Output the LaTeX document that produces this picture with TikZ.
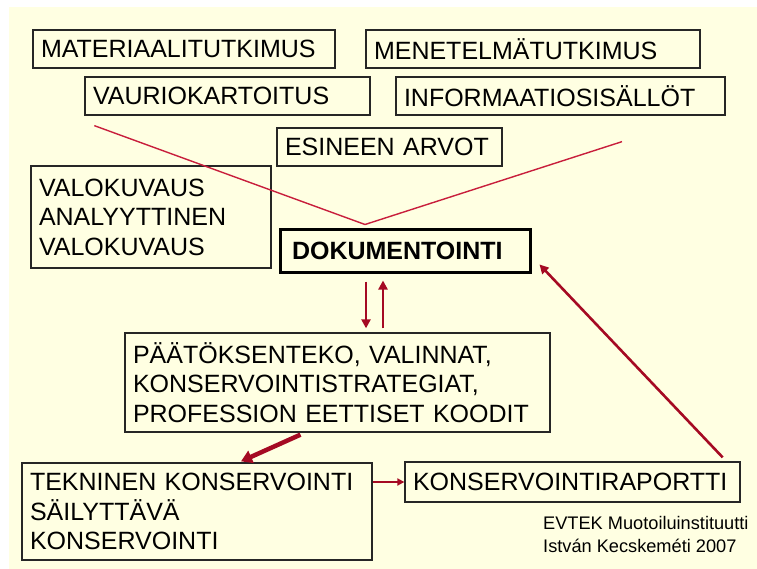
\documentclass[tikz,border=0pt]{standalone}
\usepackage{fontspec}
\setmainfont{Liberation Sans}
\usetikzlibrary{arrows.meta}
\definecolor{bgyellow}{RGB}{255,255,226}
\definecolor{vred}{RGB}{200,30,60}
\definecolor{ared}{RGB}{165,10,35}
\tikzset{
  box/.style={draw=black!85, line width=1.3pt, inner xsep=8pt, inner ysep=0pt,
    align=left, font=\fontsize{25}{29.5}\selectfont},
  arr/.style={draw=ared, line width=2.6pt, -{Triangle[length=9pt,width=9pt]}},
  thickarr/.style={draw=ared, line width=4.5pt, -{Triangle[length=11pt,width=13pt]}},
  vline/.style={draw=vred, line width=1.4pt},
  credit/.style={font=\fontsize{18.2}{23}\selectfont, align=left, inner sep=0pt}
}
\begin{document}
\begin{tikzpicture}[x=1pt,y=-1pt]
\useasboundingbox (0,0) rectangle (757,569);
\fill[bgyellow] (9,7) rectangle (757,569);

\node[box, text width=286pt, minimum height=38pt] (mat) at (184,49) {MATERIAALITUTKIMUS};
\node[box, text width=318pt, minimum height=38pt] (men) at (533,49) {MENETELMÄTUTKIMUS};
\node[box, text width=269pt, minimum height=38pt] (vau) at (227.5,96) {VAURIOKARTOITUS};
\node[box, text width=313pt, minimum height=38pt] (inf) at (560.5,96) {INFORMAATIOSISÄLLÖT};
\node[box, text width=209pt, minimum height=38pt] (esi) at (389.5,147) {ESINEEN ARVOT};
\node[box, text width=224pt, minimum height=102pt] (val) at (151,217) {VALOKUVAUS\\ANALYYTTINEN\\VALOKUVAUS};
\node[box, draw=black, line width=3pt, inner xsep=12pt, text width=226pt, minimum height=42pt,
  font=\fontsize{25}{29.5}\selectfont\bfseries] (dok) at (405,251) {DOKUMENTOINTI};
\node[box, text width=409pt, minimum height=99pt] (pae) at (337.5,382.5)
  {PÄÄTÖKSENTEKO, VALINNAT,\\KONSERVOINTISTRATEGIAT,\\PROFESSION EETTISET KOODIT};
\node[box, text width=334pt, minimum height=97pt] (tek) at (197,511.5)
  {TEKNINEN KONSERVOINTI\\SÄILYTTÄVÄ\\KONSERVOINTI};
\node[box, text width=319pt, minimum height=40pt] (kon) at (572.5,482) {KONSERVOINTIRAPORTTI};

\node[credit, anchor=west] (cred) at (543,534.5) {EVTEK Muotoiluinstituutti\\István Kecskeméti 2007};

% V line
\coordinate (v1) at ([xshift=10pt,yshift=-10pt]vau.south west);
\coordinate (v2) at ([xshift=-40pt,yshift=4pt]dok.north);
\coordinate (v3) at ([xshift=61.5pt,yshift=-26pt]inf.south);
\draw[vline] (v1) -- (v2) -- (v3);

% arrows between DOKUMENTOINTI and PÄÄTÖKSENTEKO
\coordinate (d1) at ([xshift=-39pt,yshift=-8pt]dok.south);
\coordinate (u1) at ([xshift=-22pt,yshift=-7pt]dok.south);
\coordinate (pn) at ([yshift=4pt]pae.north);
\draw[arr] (d1) -- (d1 |- pn);
\draw[arr] (u1 |- pn) -- (u1);
\draw[thickarr] ([xshift=-37pt,yshift=-2pt]pae.south) -- ([xshift=44pt,yshift=1pt]tek.north);
\draw[draw=ared, line width=2pt, -{Triangle[length=7pt,width=7pt]}] (tek.north east |- kon.west) -- (kon.west);
\draw[arr] ([xshift=-18pt,yshift=4pt]kon.north east) -- ([xshift=8pt,yshift=9pt]dok.south east);
\end{tikzpicture}
\end{document}
